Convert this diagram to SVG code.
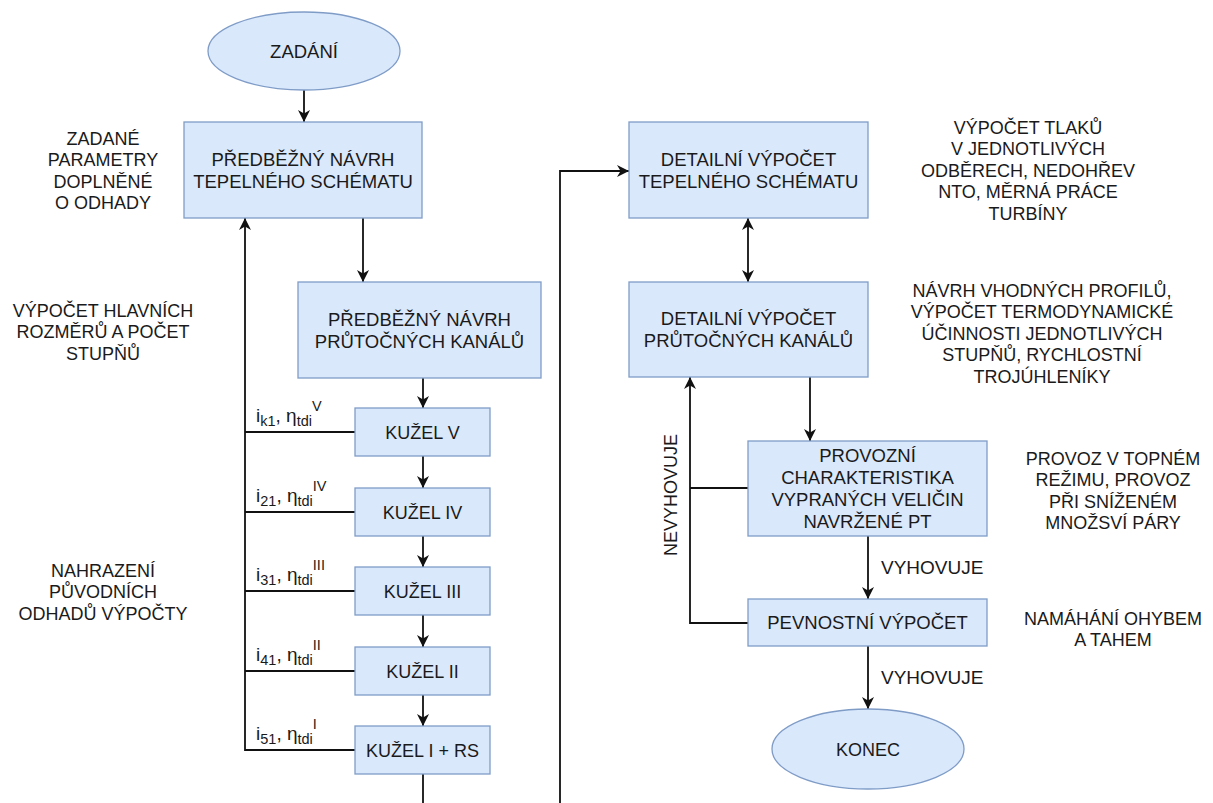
<svg xmlns="http://www.w3.org/2000/svg" width="1213" height="803" viewBox="0 0 1213 803">
<defs>
<style>
.n{fill:#dae8fc;stroke:#7f9cc7;stroke-width:1.3}
.t{font-family:"Liberation Sans",Arial,sans-serif;font-size:18px;fill:#1a1a1a;text-anchor:middle}
.b{font-size:18.5px}
.l{font-family:"Liberation Sans",Arial,sans-serif;font-size:19px;fill:#1a1a1a}
.s{font-size:14.5px}
.c{fill:none;stroke:#111;stroke-width:1.8}
</style>
<marker id="a" viewBox="0 0 10 10" refX="10" refY="5" markerWidth="12" markerHeight="12" markerUnits="userSpaceOnUse" orient="auto-start-reverse">
<path d="M0,0 L10,5 L0,10 L3,5 z" fill="#111"/>
</marker>
</defs>
<rect width="1213" height="803" fill="#fff"/>

<g id="connectors">
<path class="c" d="M304,90 V122" marker-end="url(#a)"/>
<path class="c" d="M363,218 V282" marker-end="url(#a)"/>
<path class="c" d="M423,378 V408" marker-end="url(#a)"/>
<path class="c" d="M423,456 V488" marker-end="url(#a)"/>
<path class="c" d="M423,536 V567" marker-end="url(#a)"/>
<path class="c" d="M423,615 V647" marker-end="url(#a)"/>
<path class="c" d="M423,695 V726" marker-end="url(#a)"/>
<path class="c" d="M423,774 V803"/>
<path class="c" d="M355,432 H245 M355,512 H245 M355,591 H245 M355,671 H245"/>
<path class="c" d="M355,750 H245 V218" marker-end="url(#a)"/>
<path class="c" d="M560,803 V171 H629" marker-end="url(#a)"/>
<path class="c" d="M748,218 V282" marker-start="url(#a)" marker-end="url(#a)"/>
<path class="c" d="M810,377 V441" marker-end="url(#a)"/>
<path class="c" d="M868,536 V599" marker-end="url(#a)"/>
<path class="c" d="M868,646 V709" marker-end="url(#a)"/>
<path class="c" d="M748,488 H690"/>
<path class="c" d="M748,623 H690 V377" marker-end="url(#a)"/>
<text class="l" x="881" y="574" font-size="18">VYHOVUJE</text>
<text class="l" x="881" y="684" font-size="18">VYHOVUJE</text>
<text class="t" transform="translate(677,495) rotate(-90)">NEVYHOVUJE</text>
<text class="l" x="256" y="422">i<tspan class="s" dy="4">k1</tspan><tspan dy="-4">, η</tspan><tspan class="s" dy="4">tdi</tspan><tspan class="s" dy="-15">V</tspan></text>
<text class="l" x="256" y="501.5">i<tspan class="s" dy="4">21</tspan><tspan dy="-4">, η</tspan><tspan class="s" dy="4">tdi</tspan><tspan class="s" dy="-15">IV</tspan></text>
<text class="l" x="256" y="581">i<tspan class="s" dy="4">31</tspan><tspan dy="-4">, η</tspan><tspan class="s" dy="4">tdi</tspan><tspan class="s" dy="-15">III</tspan></text>
<text class="l" x="256" y="660.5">i<tspan class="s" dy="4">41</tspan><tspan dy="-4">, η</tspan><tspan class="s" dy="4">tdi</tspan><tspan class="s" dy="-15">II</tspan></text>
<text class="l" x="256" y="740">i<tspan class="s" dy="4">51</tspan><tspan dy="-4">, η</tspan><tspan class="s" dy="4">tdi</tspan><tspan class="s" dy="-15">I</tspan></text>
</g>

<g id="zadani">
<ellipse class="n" cx="304" cy="51" rx="96" ry="39"/>
<text class="t b" x="304" y="57.5">ZADÁNÍ</text>
</g>
<g id="predbezny-tepelny">
<rect class="n" x="184" y="122" width="238" height="96"/>
<text class="t b" x="303" y="165.5">PŘEDBĚŽNÝ NÁVRH</text>
<text class="t b" x="303" y="187.5">TEPELNÉHO SCHÉMATU</text>
</g>
<g id="predbezny-kanaly">
<rect class="n" x="298" y="282" width="243" height="96"/>
<text class="t b" x="419.5" y="325.5">PŘEDBĚŽNÝ NÁVRH</text>
<text class="t b" x="419.5" y="347.5">PRŮTOČNÝCH KANÁLŮ</text>
</g>
<g id="kuzel5">
<rect class="n" x="355" y="408" width="135" height="48"/>
<text class="t" x="422.5" y="438.5">KUŽEL V</text>
</g>
<g id="kuzel4">
<rect class="n" x="355" y="488" width="135" height="48"/>
<text class="t" x="422.5" y="518.5">KUŽEL IV</text>
</g>
<g id="kuzel3">
<rect class="n" x="355" y="567" width="135" height="48"/>
<text class="t" x="422.5" y="597.5">KUŽEL III</text>
</g>
<g id="kuzel2">
<rect class="n" x="355" y="647" width="135" height="48"/>
<text class="t" x="422.5" y="677.5">KUŽEL II</text>
</g>
<g id="kuzel1">
<rect class="n" x="355" y="726" width="135" height="48"/>
<text class="t" x="422.5" y="756.5">KUŽEL I + RS</text>
</g>
<g id="detail-tepelny">
<rect class="n" x="629" y="122" width="239" height="96"/>
<text class="t b" x="748.5" y="165.5">DETAILNÍ VÝPOČET</text>
<text class="t b" x="748.5" y="187.5">TEPELNÉHO SCHÉMATU</text>
</g>
<g id="detail-kanaly">
<rect class="n" x="629" y="282" width="239" height="95"/>
<text class="t b" x="748.5" y="325">DETAILNÍ VÝPOČET</text>
<text class="t b" x="748.5" y="347">PRŮTOČNÝCH KANÁLŮ</text>
</g>
<g id="provozni">
<rect class="n" x="748" y="441" width="239" height="95"/>
<text class="t b" x="867.5" y="461.5">PROVOZNÍ</text>
<text class="t b" x="867.5" y="483.5">CHARAKTERISTIKA</text>
<text class="t b" x="867.5" y="505.5">VYPRANÝCH VELIČIN</text>
<text class="t b" x="867.5" y="527.5">NAVRŽENÉ PT</text>
</g>
<g id="pevnostni">
<rect class="n" x="748" y="599" width="239" height="47"/>
<text class="t b" x="867.5" y="629">PEVNOSTNÍ VÝPOČET</text>
</g>
<g id="konec">
<ellipse class="n" cx="868" cy="749" rx="96" ry="40"/>
<text class="t" x="868" y="755.5">KONEC</text>
</g>

<g id="note-zadane">
<text class="t" x="103" y="144.5">ZADANÉ</text>
<text class="t" x="103" y="166">PARAMETRY</text>
<text class="t" x="103" y="187.5">DOPLNĚNÉ</text>
<text class="t" x="103" y="209">O ODHADY</text>
</g>
<g id="note-hlavni">
<text class="t" x="103" y="316.5">VÝPOČET HLAVNÍCH</text>
<text class="t" x="103" y="338">ROZMĚRŮ A POČET</text>
<text class="t" x="103" y="359.5">STUPŇŮ</text>
</g>
<g id="note-nahrazeni">
<text class="t" x="103" y="576.5">NAHRAZENÍ</text>
<text class="t" x="103" y="598">PŮVODNÍCH</text>
<text class="t" x="103" y="619.5">ODHADŮ VÝPOČTY</text>
</g>
<g id="note-tlaky">
<text class="t" x="1028" y="133.5">VÝPOČET TLAKŮ</text>
<text class="t" x="1028" y="155">V JEDNOTLIVÝCH</text>
<text class="t" x="1028" y="176.5">ODBĚRECH, NEDOHŘEV</text>
<text class="t" x="1028" y="198">NTO, MĚRNÁ PRÁCE</text>
<text class="t" x="1028" y="219.5">TURBÍNY</text>
</g>
<g id="note-profily">
<text class="t" x="1042" y="296.5">NÁVRH VHODNÝCH PROFILŮ,</text>
<text class="t" x="1042" y="318">VÝPOČET TERMODYNAMICKÉ</text>
<text class="t" x="1042" y="339.5">ÚČINNOSTI JEDNOTLIVÝCH</text>
<text class="t" x="1042" y="361">STUPŇŮ, RYCHLOSTNÍ</text>
<text class="t" x="1042" y="382.5">TROJÚHLENÍKY</text>
</g>
<g id="note-provoz">
<text class="t" x="1113" y="464.5">PROVOZ V TOPNÉM</text>
<text class="t" x="1113" y="486">REŽIMU, PROVOZ</text>
<text class="t" x="1113" y="507.5">PŘI SNÍŽENÉM</text>
<text class="t" x="1113" y="529">MNOŽSVÍ PÁRY</text>
</g>
<g id="note-namahani">
<text class="t" x="1113" y="624.5">NAMÁHÁNÍ OHYBEM</text>
<text class="t" x="1113" y="646">A TAHEM</text>
</g>
</svg>
